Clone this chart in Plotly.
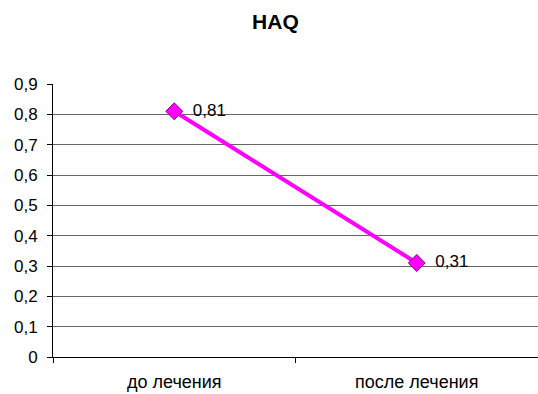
import plotly.graph_objects as go

categories = ["до лечения", "после лечения"]
haq_values = [0.81, 0.31]
value_labels = ["  " + f"{v:.2f}".replace(".", ",") for v in haq_values]

fig = go.Figure()
fig.add_trace(go.Scatter(
    x=categories,
    y=haq_values,
    mode="lines+markers+text",
    text=value_labels,
    textposition="middle right",
    textfont=dict(family="Liberation Sans, Arial", size=17, color="black"),
    line=dict(color="#FF00FF", width=4),
    marker=dict(symbol="diamond", size=13, color="#FF00FF",
                line=dict(color="#800080", width=1)),
    cliponaxis=False,
    showlegend=False,
))

fig.update_layout(
    width=538, height=394,
    margin=dict(l=53, r=0, t=84, b=37),
    paper_bgcolor="white", plot_bgcolor="white",
    separators=", ",
    font=dict(family="Liberation Sans, Arial", size=17, color="black"),
    title=dict(text="<b>HAQ</b>", x=0.512, xanchor="center", y=0.944,
               yanchor="middle", font=dict(size=21, color="black")),
)
fig.update_xaxes(
    type="category", range=[-0.5, 1.5],
    showline=True, linecolor="black", linewidth=1,
    ticks="outside", tickson="boundaries", ticklen=5, tickcolor="black",
    showgrid=False, tickfont=dict(size=18), ticklabelstandoff=8,
)
fig.update_yaxes(
    range=[0, 0.9], dtick=0.1, tick0=0,
    showline=True, linecolor="black", linewidth=1,
    ticks="outside", ticklen=5, tickcolor="black",
    showgrid=True, gridcolor="#666666", gridwidth=1,
    zeroline=False, tickfont=dict(size=17), ticklabelstandoff=6,
)

fig.write_html("out.html")
